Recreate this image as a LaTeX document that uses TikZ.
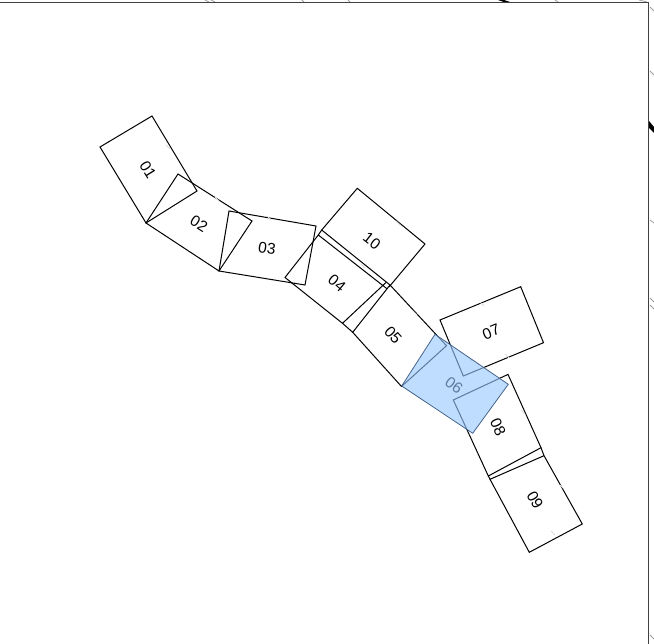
\documentclass[tikz,border=0pt]{standalone}
\usepackage{fontspec}
\setmainfont{Liberation Sans}
\definecolor{selblue}{RGB}{150,200,255}
\definecolor{selline}{RGB}{70,100,140}
\tikzset{
  sheet/.style={draw=black,line width=1pt,line join=miter},
  selected/.style={draw=selline,line width=0.8pt,fill=selblue,fill opacity=0.62},
  lbl/.style={font=\fontsize{15.5}{17}\selectfont,inner sep=0pt,text=black},
  tick/.style={draw=black!38,line width=0.8pt},
  smudge/.style={draw=black!14,line width=1pt},
  blob/.style={draw=none,fill=black},
  frameline/.style={draw=black!75,line width=1.4pt}
}
\begin{document}
\begin{tikzpicture}[x=1pt,y=-1pt]
\useasboundingbox (0,0) rectangle (654,644);
% marks outside the frame
\foreach \a/\b/\c/\d in {205/0/209/2, 211/0/215/2, 302/0/304/2, 348/0/350/2, 555/0/558/2, 639/0/647/2,
  650/7/654/11, 650/71/654/75, 650/220/654/223, 650/298/654/302, 650/305/654/309, 650/635/654/639}
  {\draw[tick] (\a,\b) -- (\c,\d);}
\fill[blob] (498,0) -- (504,0) -- (510,2) -- (505,2.5) -- cycle;
\fill[blob] (649,121) -- (654,127) -- (654,133) -- (649,128) -- cycle;
\draw[frameline] (0,2.7) -- (648.3,2.7) -- (648.3,644);
% sheets
\draw[sheet] (100,147) -- (152,116) -- (197,191) -- (146,223) -- cycle;
\draw[sheet] (146,223) -- (178,174) -- (252,221) -- (219,271) -- cycle;
\draw[sheet] (229,211) -- (316,226) -- (305,285) -- (219,271) -- cycle;
% 04
\draw[sheet] (386,282.5) -- (342.5,323.3) -- (285,277.5) -- (318.3,235) -- (387.3,289);
% 10
\draw[sheet] (318.3,235) -- (321.7,230) -- (357.3,188.3) -- (425,244) -- (389,287);
% 05
\draw[sheet] (321.7,230) -- (390,285) -- (446.5,345.7) -- (401.5,386.5) -- (352.7,332.3) -- (342.5,323.3);
\draw[sheet] (352.7,332.3) -- (390,285);
% 07
\draw[sheet] (440,320) -- (520.7,286.7) -- (543.5,342.7) -- (463.3,376) -- cycle;
% 08
\draw[sheet] (453.3,400) -- (508,374.4) -- (541,447.7) -- (488.3,476) -- cycle;
% 09
\draw[sheet] (490,479.3) -- (544,455.7) -- (582.3,524) -- (529.3,552.3) -- cycle;
\draw[sheet] (488.3,476) -- (490,479.3);
\draw[sheet] (541,447.7) -- (544,455.7);
% faint marks on the edges
\foreach \a/\b in {168/147, 217/199, 269/218, 398/223, 363/266, 415/313, 482/304, 507/356, 470/359, 523/412, 562/487, 553/533}
  {\draw[smudge] (\a-2,\b-2) -- (\a+2,\b+2);}
% labels
\node[lbl,rotate=-58] (l01) at (148,170) {01};
\node[lbl,rotate=-32] (l02) at (199,224) {02};
\node[lbl,rotate=-8]  (l03) at (267,248) {03};
\node[lbl,rotate=-40] (l04) at (337,283) {04};
\node[lbl,rotate=-48] (l05) at (393,335) {05};
\node[lbl,rotate=-37] (l06) at (454,385) {06};
\node[lbl,rotate=22]  (l07) at (491,332) {07};
\node[lbl,rotate=-65] (l08) at (498,427) {08};
\node[lbl,rotate=-60] (l09) at (535,500) {09};
\node[lbl,rotate=-38] (l10) at (372,241) {10};
% selected sheet on top
\path[selected] (435,334.3) -- (508.3,384.3) -- (472.7,433.3) -- (401.7,386) -- cycle;
\end{tikzpicture}
\end{document}
